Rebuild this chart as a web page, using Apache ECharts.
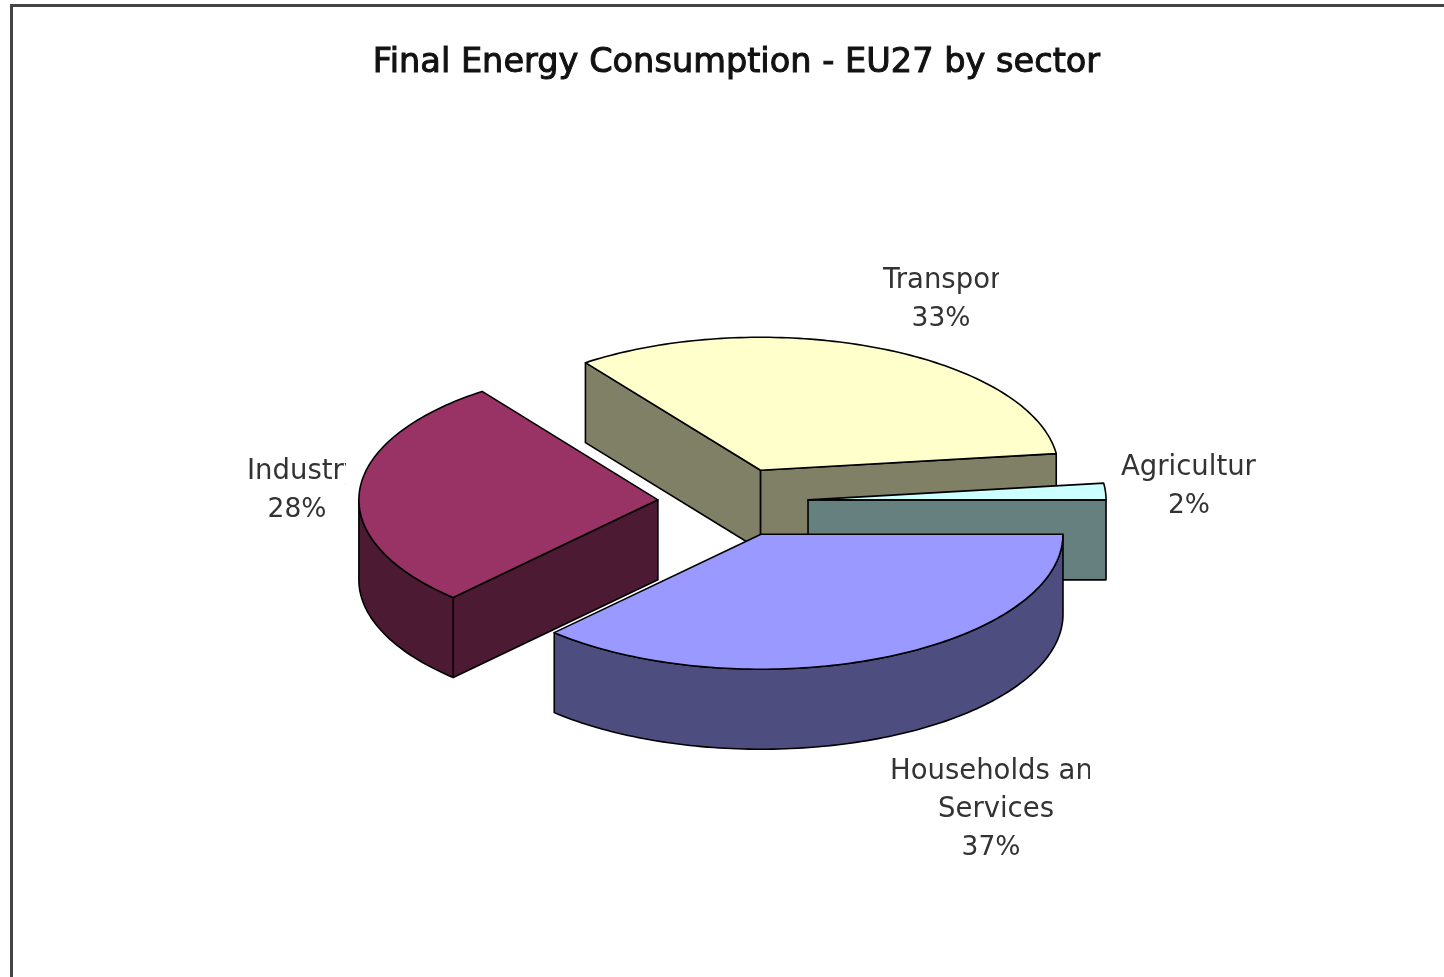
<!DOCTYPE html>
<html>
<head>
<meta charset="utf-8">
<style>
html,body{margin:0;padding:0;background:#fff;overflow:hidden}
#chart{width:1444px;height:977px;filter:blur(0.5px)}
</style>
<script src="https://cdn.jsdelivr.net/npm/echarts@6/dist/echarts.min.js"></script>
</head>
<body>
<div id="chart"></div>
<script>
// Data
var titleText = 'Final Energy Consumption - EU27 by sector';
var categories = ['Households and Services', 'Industry', 'Transport', 'Agriculture'];
var shares = [37, 28, 33, 2];

// Styles
var topColors  = ['#9999FF', '#993366', '#FFFFCC', '#CCFFFF'];
var sideColors = ['#4D4D80', '#4D1A33', '#808066', '#668080'];

// Layout
var pie = { cx: 731, cy: 502, depth: 80, explodeY: 0.26 };
var radiusX = [302, 299, 298, 298];
var radiusY = [135, 134, 133, 133];
var explodeX = [0.25, 0.245, 0.25, 0.259];
var labelSpec = [
  { lines: ['Households and', 'Services'], x: [890, 996], y: 772, clipRight: 1090, pctX: 991 },
  { lines: ['Industry'], x: [247], y: 472, clipRight: 346, pctX: 297 },
  { lines: ['Transport'], x: [883], y: 281, clipRight: 999, pctX: 941 },
  { lines: ['Agriculture'], x: [1121], y: 468, clipRight: 1256, pctX: 1189 }
];
var FONT = '"DejaVu Sans"';
var LABEL_SIZE = 27.5, PCT_SIZE = 26.5, LINE_H = 38, STROKE = '#000', STROKE_W = 1.6;

var total = shares.reduce(function (a, b) { return a + b; }, 0);

function arcPts(cx, cy, rx, ry, a0, a1) {
  var out = [], n = Math.max(2, Math.ceil((a1 - a0) / 0.02));
  for (var k = 0; k <= n; k++) {
    var t = a0 + (a1 - a0) * k / n;
    out.push([cx + rx * Math.cos(t), cy + ry * Math.sin(t)]);
  }
  return out;
}

function renderSlice(params, api) {
  var i = api.value(0), v = api.value(1);
  var before = 0;
  for (var j = 0; j < i; j++) before += shares[j];
  var a0 = before / total * 2 * Math.PI;
  var a1 = (before + v) / total * 2 * Math.PI;
  var mid = (a0 + a1) / 2;
  var rx = radiusX[i], ry = radiusY[i];
  var cx = pie.cx + explodeX[i] * rx * Math.cos(mid);
  var cy = pie.cy + pie.explodeY * ry * Math.sin(mid);
  var z = Math.round(Math.sin(mid) * 100) + 200;
  var d = pie.depth;
  var children = [];

  function face(points, fill, zz) {
    children.push({
      type: 'polygon', z2: zz, silent: true,
      shape: { points: points },
      style: { fill: fill, stroke: STROKE, lineWidth: STROKE_W, lineJoin: 'round' }
    });
  }
  function radialWall(a) {
    var px = cx + rx * Math.cos(a), py = cy + ry * Math.sin(a);
    face([[cx, cy], [px, py], [px, py + d], [cx, cy + d]], sideColors[i], z);
  }
  // radial walls: only those facing the viewer
  if (-Math.cos(a0) > 1e-9) radialWall(a0);
  if (Math.cos(a1) > 1e-9) radialWall(a1);
  // curved outer wall: only the part facing the viewer
  var w0 = Math.max(a0, 0), w1 = Math.min(a1, Math.PI);
  if (w1 > w0) {
    var upper = arcPts(cx, cy, rx, ry, w0, w1);
    var lower = arcPts(cx, cy + d, rx, ry, w0, w1).reverse();
    face(upper.concat(lower), sideColors[i], z + 1);
  }
  // top
  face([[cx, cy]].concat(arcPts(cx, cy, rx, ry, a0, a1)), topColors[i], z + 2);

  // label
  var spec = labelSpec[i];
  var lines = spec.lines.concat([Math.round(v / total * 100) + '%']);
  lines.forEach(function (txt, n) {
    var isFirst = n === 0;
    var isPct = n === lines.length - 1;
    var lx = isPct ? spec.pctX : spec.x[n];
    var el = {
      type: 'text', z2: 500, silent: true, x: lx, y: spec.y + n * LINE_H,
      style: {
        text: txt, fill: '#333', font: (isPct ? PCT_SIZE : LABEL_SIZE) + 'px ' + FONT,
        align: isFirst ? 'left' : 'center', verticalAlign: 'middle'
      }
    };
    if (isFirst) {
      el.clipPath = { type: 'rect', shape: { x: 0, y: -30, width: spec.clipRight - lx, height: 60 } };
    }
    children.push(el);
  });
  return { type: 'group', children: children };
}

var chart = echarts.init(document.getElementById('chart'), null, { renderer: 'canvas' });
chart.setOption({
  animation: false,
  backgroundColor: '#fff',
  title: {
    text: titleText, left: 731.5, top: 58, textAlign: 'center', textVerticalAlign: 'middle',
    textStyle: { fontFamily: FONT, fontSize: 33.6, fontWeight: 'normal', color: '#111',
      textBorderColor: '#111', textBorderWidth: 1 }
  },
  graphic: [{
    type: 'rect', silent: true, z: 0,
    shape: { x: 11.5, y: 5.5, width: 1500, height: 1100 },
    style: { fill: 'none', stroke: '#444', lineWidth: 3 }
  }],
  series: [{
    type: 'custom',
    coordinateSystem: 'none',
    renderItem: renderSlice,
    silent: true,
    encode: { value: 1, itemName: 2 },
    data: shares.map(function (v, i) { return [i, v, categories[i]]; })
  }]
});
</script>
</body>
</html>
